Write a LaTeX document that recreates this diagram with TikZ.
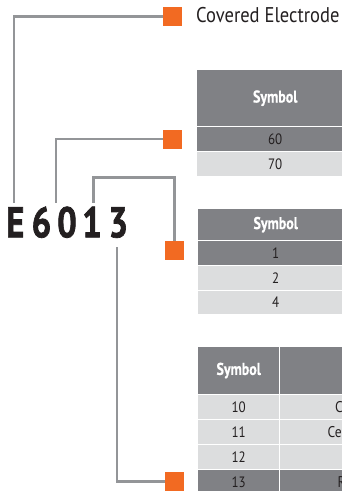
\documentclass[tikz,border=0pt]{standalone}
\usepackage{fontspec}
\setmainfont{PT Sans}
\newfontfamily\condfont[FakeStretch=0.87]{PT Sans}
\newfontfamily\condbold[FakeStretch=0.82,FakeBold=0.6]{PT Sans Bold}
\newfontfamily\codefont[FakeStretch=0.8,FakeBold=1.6]{PT Sans Bold}

\definecolor{linegray}{RGB}{147,149,152}
\definecolor{accent}{RGB}{242,106,34}
\definecolor{headgray}{RGB}{128,129,133}
\definecolor{rowlight}{RGB}{220,221,222}
\definecolor{inkdark}{RGB}{35,31,32}

\tikzset{
  connector/.style={draw=linegray, line width=2.6pt, line join=miter},
  marker/.style={fill=accent, draw=none, minimum size=19pt, inner sep=0pt},
  codechar/.style={font=\codefont\fontsize{43}{43}\selectfont, text=inkdark, inner sep=0pt, anchor=base},
  cellbase/.style={anchor=north west, inner sep=0pt, draw=none},
  headcell/.style={cellbase, fill=headgray, text=white, font=\condbold\fontsize{17}{17}\selectfont},
  selcell/.style={cellbase, fill=headgray, text=inkdark, font=\condfont\fontsize{15}{15}\selectfont},
  plaincell/.style={cellbase, fill=rowlight, text=inkdark, font=\condfont\fontsize{15}{15}\selectfont},
  celltext/.style={anchor=west, inner sep=0pt, text=inkdark, font=\condfont\fontsize{15.5}{15.5}\selectfont},
}

\begin{document}
\begin{tikzpicture}[x=1pt, y=-1pt]
\useasboundingbox (0,0) rectangle (342,491);

% title
\node[anchor=base west, inner sep=0pt, text=inkdark,
      font=\condfont\fontsize{21.3}{21.3}\selectfont] (title) at (196,22) {Covered Electrode};

% electrode code, one node per character
\node[codechar] (cE) at (15.3,237.3) {E};
\node[codechar] (c6) at (41.5,237.3) {6};
\node[codechar] (c0) at (67,237.3) {0};
\node[codechar] (c1) at (92,237.3) {1};
\node[codechar] (c3) at (118.3,237.3) {3};

% orange markers
\node[marker] (sq1) at (172.5,16.5) {};
\node[marker] (sq2) at (172.5,139) {};
\node[marker] (sq3) at (174.5,250.5) {};
\node[marker] (sq4) at (174.5,481.5) {};

% connector ends next to the code
\coordinate (pE) at (14,202.5);
\coordinate (p60) at (56,202.5);
\coordinate (p1) at (93.5,202.5);
\coordinate (p1b) at (93.5,177.5);
\coordinate (p3) at (117,247);

\draw[connector] (pE) |- (sq1.west);
\draw[connector] (p60) |- (sq2.west);
\draw[connector] (p1) -- (p1b) -| (sq3.north);
\draw[connector] (p3) |- (sq4.west);

% table: strength
\node[headcell, minimum width=156pt, minimum height=56pt] (ta) at (197,70) {Symbol};
\node[selcell, minimum width=156pt, minimum height=24pt] (ta1) at (197,127) {60};
\node[plaincell, minimum width=156pt, minimum height=24pt] (ta2) at (197,152) {70};

% table: position
\node[headcell, minimum width=155pt, minimum height=31pt] (tb) at (198,209) {Symbol};
\node[selcell, minimum width=155pt, minimum height=24pt] (tb1) at (198,241) {1};
\node[plaincell, minimum width=155pt, minimum height=23.5pt] (tb2) at (198,266) {2};
\node[plaincell, minimum width=155pt, minimum height=23.5pt] (tb3) at (198,290.5) {4};

% table: coating
\node[headcell, minimum width=81pt, minimum height=47.3pt] (tc) at (198,346.7) {Symbol};
\node[headcell, minimum width=220pt, minimum height=47.3pt] (tcd) at (280,346.7) {};
\node[plaincell, minimum width=81pt, minimum height=24pt] (tc1) at (198,395) {10};
\node[plaincell, minimum width=220pt, minimum height=24pt] (tcd1) at (280,395) {};
\node[plaincell, minimum width=81pt, minimum height=24pt] (tc2) at (198,420) {11};
\node[plaincell, minimum width=220pt, minimum height=24pt] (tcd2) at (280,420) {};
\node[plaincell, minimum width=81pt, minimum height=24pt] (tc3) at (198,445) {12};
\node[plaincell, minimum width=220pt, minimum height=24pt] (tcd3) at (280,445) {};
\node[selcell, minimum width=81pt, minimum height=24pt] (tc4) at (198,470) {13};
\node[selcell, minimum width=220pt, minimum height=24pt] (tcd4) at (280,470) {};

\node[celltext] (d1) at (335,407) {Cellulose Sodium};
\node[celltext] (d2) at (327.5,432) {Cellulose Potassium};
\node[celltext] (d4) at (337.3,482) {Rutile Potassium};
\end{tikzpicture}
\end{document}
